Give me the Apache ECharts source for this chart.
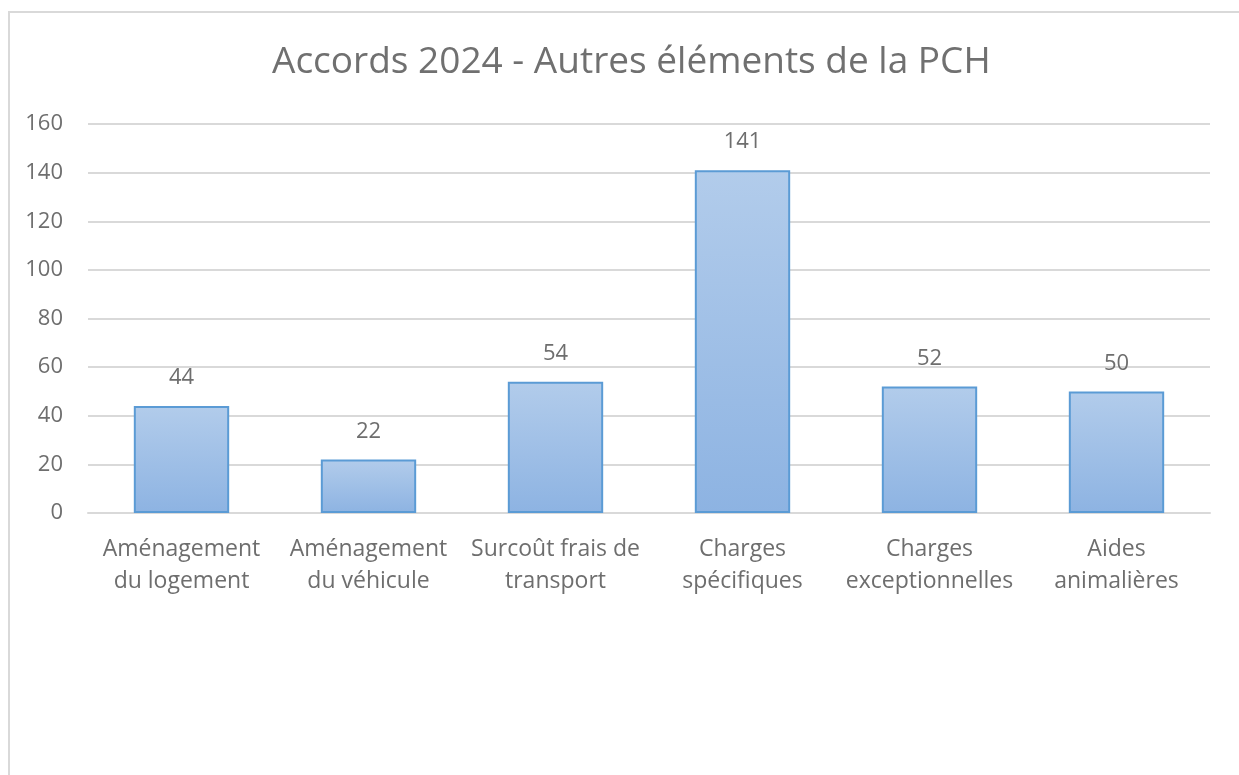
<!DOCTYPE html>
<html>
<head>
<meta charset="utf-8">
<script src="https://cdn.jsdelivr.net/npm/echarts@6/dist/echarts.min.js"></script>
<style>
  html, body { margin: 0; padding: 0; background: #fff; }
  #chart { width: 1239px; height: 775px; }
</style>
</head>
<body>
<div id="chart"></div>
<script>
// données du graphique
var categories = ['Aménagement\ndu logement', 'Aménagement\ndu véhicule', 'Surcoût frais de\ntransport',
    'Charges\nspécifiques', 'Charges\nexceptionnelles', 'Aides\nanimalières'];
var accords = [44, 22, 54, 141, 52, 50];
var yTicks = [0, 160, 20]; // min, max, pas

var myChart = echarts.init(document.getElementById('chart'));
var option = {
    backgroundColor: '#fff',
    textStyle: { fontFamily: 'Open Sans' },
    title: {
        text: 'Accords 2024 - Autres éléments de la PCH',
        left: 267,
        top: 39,
        textStyle: { fontFamily: 'Open Sans', fontSize: 37, fontWeight: 'normal', color: '#707070' }
    },
    // cadre gris du graphique
    graphic: [{
        type: 'rect',
        shape: { x: 9, y: 12, width: 1400, height: 900 },
        style: { fill: 'none', stroke: '#d9d9d9', lineWidth: 2 },
        silent: true
    }],
    grid: { left: 88, right: 29, top: 124, bottom: 262 },
    xAxis: {
        type: 'category',
        data: categories,
        axisLine: { lineStyle: { color: '#d9d9d9', width: 2 } },
        axisTick: { show: false },
        axisLabel: { fontSize: 23, color: '#6e6e6e', lineHeight: 32, margin: 20, interval: 0 }
    },
    yAxis: {
        type: 'value',
        min: yTicks[0],
        max: yTicks[1],
        interval: yTicks[2],
        axisLine: { show: false },
        axisTick: { show: false },
        splitLine: { lineStyle: { color: '#d9d9d9', width: 2 } },
        axisLabel: { fontSize: 22, color: '#6e6e6e', margin: 25 }
    },
    series: [{
        type: 'bar',
        data: accords,
        barCategoryGap: '49%',
        itemStyle: {
            color: new echarts.graphic.LinearGradient(0, 0, 0, 1, [
                { offset: 0, color: '#b2cceb' },
                { offset: 1, color: '#8db3e2' }
            ]),
            borderColor: '#5b9bd5',
            borderWidth: 2
        },
        label: {
            show: true,
            position: 'top',
            distance: 17,
            fontSize: 22,
            color: '#6e6e6e'
        }
    }]
};
myChart.setOption(option);
</script>
</body>
</html>
